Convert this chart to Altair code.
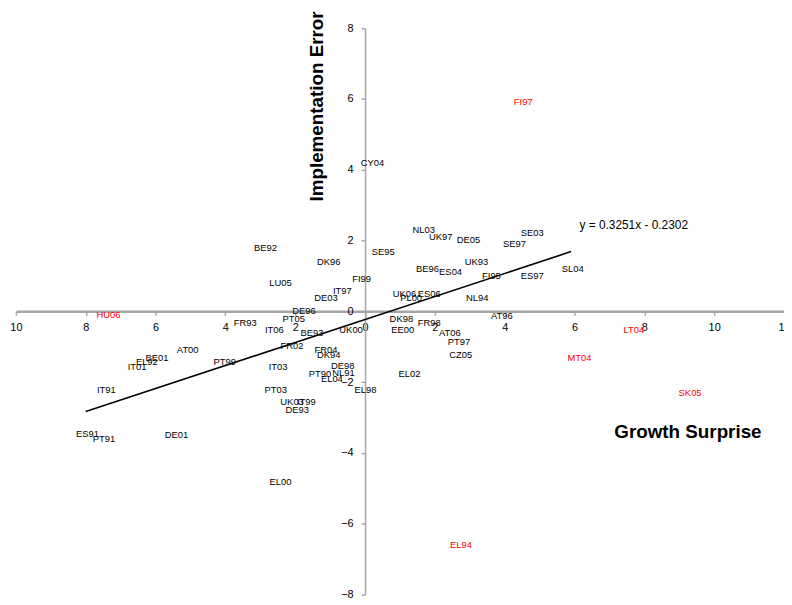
import altair as alt
import pandas as pd

# ---- data ----
labels = ["BE92", "SE95", "DK96", "LU05", "FI99", "IT97", "DE03", "DE96", "PT05", "FR93",
          "IT06", "BE93", "UK00", "FR02", "AT00", "BE01", "EL92", "IT01", "PT99", "IT03",
          "FR04", "DK94", "DE98", "PT90", "NL91", "EL04", "EL98", "PT03", "UK03", "IT99",
          "DE93", "ES91", "PT91", "DE01", "EL00", "IT91", "CY04", "NL03", "UK97", "DE05",
          "SE03", "SE97", "UK93", "BE96", "ES04", "FI95", "ES97", "SL04", "UK06", "ES06",
          "PL00", "NL94", "AT96", "DK98", "FR98", "EE00", "AT06", "PT97", "CZ05", "EL02",
          "HU06", "FI97", "LT04", "MT04", "SK05", "EL94"]
growth = [-2.85, 0.52, -1.04, -2.42, -0.10, -0.65, -1.12, -1.75, -2.04, -3.43,
          -2.60, -1.52, -0.40, -2.09, -5.08, -5.96, -6.25, -6.53, -4.02, -2.49,
          -1.12, -1.04, -0.64, -1.29, -0.62, -0.95, 0.01, -2.56, -2.09, -1.68,
          -1.94, -7.95, -7.48, -5.40, -2.42, -7.41, 0.21, 1.68, 2.17, 2.96,
          4.79, 4.28, 3.19, 1.79, 2.45, 3.62, 4.79, 5.95, 1.13, 1.84,
          1.32, 3.21, 3.92, 1.04, 1.84, 1.08, 2.43, 2.69, 2.74, 1.27,
          -7.35, 4.53, 7.70, 6.14, 9.31, 2.75]
error = [1.79, 1.69, 1.39, 0.79, 0.90, 0.57, 0.37, 0.01, -0.22, -0.32,
         -0.52, -0.61, -0.52, -0.99, -1.10, -1.31, -1.42, -1.57, -1.43, -1.57,
         -1.08, -1.22, -1.55, -1.76, -1.75, -1.92, -2.22, -2.22, -2.55, -2.55,
         -2.78, -3.46, -3.60, -3.49, -4.81, -2.22, 4.19, 2.30, 2.11, 2.02,
         2.21, 1.91, 1.39, 1.21, 1.11, 0.99, 1.00, 1.21, 0.49, 0.49,
         0.37, 0.38, -0.12, -0.21, -0.32, -0.52, -0.60, -0.88, -1.22, -1.78,
         -0.10, 5.91, -0.52, -1.31, -2.32, -6.59]
group = ["fit"] * 60 + ["outlier"] * 6

slope, intercept = 0.3251, -0.2302
trend_x = [-8.0, 5.9]
equation = "y = 0.3251x - 0.2302"
equation_pos = [6.14, 2.45]

x_ticks = [-10, -8, -6, -4, -2, 0, 2, 4, 6, 8, 10, 12]
y_ticks = [-8, -6, -4, -2, 0, 2, 4, 6, 8]
x_dom = [-10, 12]
y_dom = [-8, 8]

# ---- layout ----
W = 775.5
H = 571.8
x0 = (0 - x_dom[0]) / (x_dom[1] - x_dom[0]) * W
y0 = (y_dom[1] - 0) / (y_dom[1] - y_dom[0]) * H

pts = pd.DataFrame({"label": labels, "g": growth, "e": error, "grp": group})
trend = pd.DataFrame({"g": trend_x, "e": [slope * v + intercept for v in trend_x]})
eq = pd.DataFrame({"g": [equation_pos[0]], "e": [equation_pos[1]], "t": [equation]})

FONT = "Liberation Sans"
GREY = "#a6a6a6"

x_axis = alt.Axis(values=x_ticks, labelExpr="abs(datum.value)", offset=-(H - y0),
                  orient="bottom", grid=False, domainColor=GREY, domainWidth=2.5,
                  tickColor=GREY, tickWidth=1.5, tickSize=4, labelFontSize=11,
                  labelColor="#000000", labelPadding=6, labelFlush=False,
                  labelOverlap=False, title="Growth Surprise", titleX=678, titleY=121,
                  titleFontSize=19, titleFontWeight="bold", titleColor="#000000",
                  titleAlign="center", titleBaseline="middle", titleFont=FONT)
y_axis = alt.Axis(values=y_ticks, offset=-x0, orient="left", grid=False,
                  domainColor=GREY, domainWidth=1.5, tickColor=GREY, tickWidth=1.5,
                  tickSize=4, labelFontSize=11, labelColor="#000000", labelPadding=8,
                  labelFlush=False, labelOverlap=False, title="Implementation Error",
                  titleX=304 - x0, titleY=78.5, titleAngle=270, titleFontSize=19,
                  titleFontWeight="bold", titleColor="#000000", titleAlign="center",
                  titleBaseline="middle", titleFont=FONT)

xs = alt.Scale(domain=x_dom, nice=False, zero=False)
ys = alt.Scale(domain=y_dom, nice=False, zero=False)

text_layer = alt.Chart(pts).mark_text(font=FONT, fontSize=9.5, align="center",
                                      baseline="middle").encode(
    x=alt.X("g:Q", scale=xs, axis=x_axis),
    y=alt.Y("e:Q", scale=ys, axis=y_axis),
    text="label:N",
    color=alt.Color("grp:N", scale=alt.Scale(domain=["fit", "outlier"],
                                             range=["#000000", "#ff0000"]), legend=None),
)

line_layer = alt.Chart(trend).mark_line(color="#000000", strokeWidth=1.6).encode(
    x=alt.X("g:Q", scale=xs),
    y=alt.Y("e:Q", scale=ys),
)

eq_layer = alt.Chart(eq).mark_text(font=FONT, fontSize=12, align="left",
                                   baseline="middle", color="#000000").encode(
    x=alt.X("g:Q", scale=xs),
    y=alt.Y("e:Q", scale=ys),
    text="t:N",
)

chart = alt.layer(line_layer, text_layer, eq_layer).properties(
    width=W, height=H,
    autosize=alt.AutoSizeParams(type="none"),
    padding={"left": 8, "top": 17.5, "right": 0, "bottom": 9},
).configure(font=FONT, background="#ffffff").configure_view(strokeWidth=0, stroke=None)

chart.save("out.html", embed_options={"renderer": "svg", "actions": False})
